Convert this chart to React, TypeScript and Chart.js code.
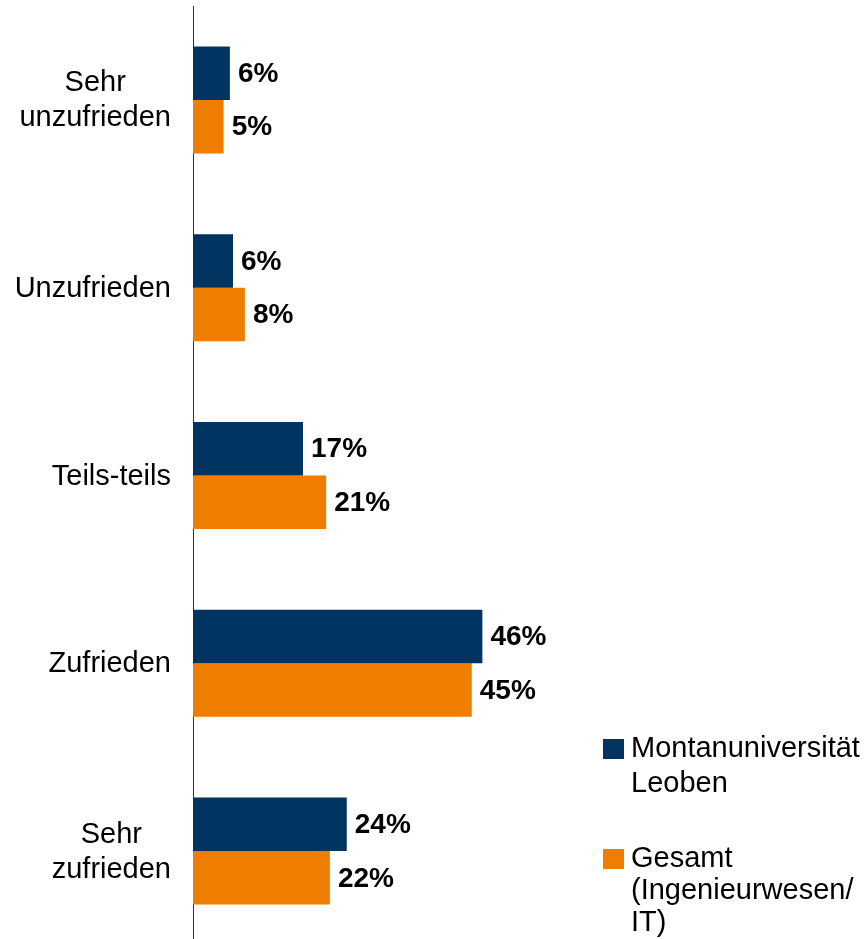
import React, { useEffect, useRef } from 'react';
import { Chart, registerables } from 'chart.js';

Chart.register(...registerables);

const categories: string[][] = [
  ['Sehr', 'unzufrieden'],
  ['Unzufrieden'],
  ['Teils-teils'],
  ['Zufrieden'],
  ['Sehr', 'zufrieden'],
];
const seriesNames: string[][] = [
  ['Montanuniversität', 'Leoben'],
  ['Gesamt', '(Ingenieurwesen/', 'IT)'],
];
const montanValues = [5.9, 6.4, 17.6, 46.3, 24.6];
const gesamtValues = [4.9, 8.3, 21.3, 44.6, 21.9];
const montanLabels = ['6%', '6%', '17%', '46%', '24%'];
const gesamtLabels = ['5%', '8%', '21%', '45%', '22%'];

const NAVY = '#023461';
const ORANGE = '#EF7D00';
const FONT = '"Liberation Sans", Arial, Helvetica, sans-serif';

const customPlugin = {
  id: 'customText',
  afterDatasetsDraw(chart: any) {
    const ctx = chart.ctx as CanvasRenderingContext2D;
    ctx.save();
    // value labels
    ctx.font = `bold 28px ${FONT}`;
    ctx.fillStyle = '#000';
    ctx.textBaseline = 'middle';
    ctx.textAlign = 'left';
    const lbls = [montanLabels, gesamtLabels];
    chart.data.datasets.forEach((_ds: any, di: number) => {
      const meta = chart.getDatasetMeta(di);
      meta.data.forEach((bar: any, i: number) => {
        ctx.fillText(lbls[di][i], bar.x + 8, bar.y + 1);
      });
    });
    // category labels
    const ys = chart.scales.y;
    ctx.font = `29px ${FONT}`;
    ctx.textAlign = 'center';
    const lh = 35;
    categories.forEach((lines, i) => {
      const cy = ys.getPixelForValue(i) + 1;
      const maxW = Math.max(...lines.map((l) => ctx.measureText(l).width));
      const cx = ys.right - 22 - maxW / 2;
      lines.forEach((l, j) => {
        ctx.fillText(l, cx, cy + (j - (lines.length - 1) / 2) * lh);
      });
    });
    // legend
    ctx.textAlign = 'left';
    ctx.textBaseline = 'alphabetic';
    const colors = [NAVY, ORANGE];
    const starts = [757, 867];
    const spacings = [35, 32];
    seriesNames.forEach((lines, si) => {
      const b0 = starts[si];
      ctx.fillStyle = colors[si];
      ctx.fillRect(603, b0 - 18, 21, 20);
      ctx.fillStyle = '#000';
      lines.forEach((l, j) => ctx.fillText(l, 631, b0 + j * spacings[si]));
    });
    ctx.restore();
  },
};

export default function App() {
  const ref = useRef<HTMLCanvasElement>(null);
  useEffect(() => {
    if (!ref.current) return;
    const chart = new Chart(ref.current, {
      type: 'bar',
      data: {
        labels: categories.map((c) => c.join(' ')),
        datasets: [
          {
            label: seriesNames[0].join(' '),
            data: montanValues,
            backgroundColor: NAVY,
            categoryPercentage: 0.57,
            barPercentage: 1,
          },
          {
            label: seriesNames[1].join(' '),
            data: gesamtValues,
            backgroundColor: ORANGE,
            categoryPercentage: 0.57,
            barPercentage: 1,
          },
        ],
      },
      options: {
        indexAxis: 'y',
        responsive: false,
        animation: false,
        layout: { padding: { top: 6, bottom: 0, left: 0, right: 49 } },
        plugins: {
          legend: { display: false },
          tooltip: { enabled: false },
        },
        scales: {
          x: {
            display: false,
            min: 0,
            max: 100,
          },
          y: {
            display: true,
            grid: { display: false, drawTicks: false },
            ticks: { display: false },
            border: { display: true, color: '#333', width: 1 },
            afterFit: (scale: any) => {
              scale.width = 193;
            },
          },
        },
      },
      plugins: [customPlugin],
    });
    return () => chart.destroy();
  }, []);
  return (
    <div
      style={{
        position: 'fixed',
        top: 0,
        left: 0,
        width: 867,
        height: 939,
        overflow: 'hidden',
        background: '#fff',
      }}
    >
      <canvas ref={ref} width={867} height={945} style={{ display: 'block' }} />
    </div>
  );
}
